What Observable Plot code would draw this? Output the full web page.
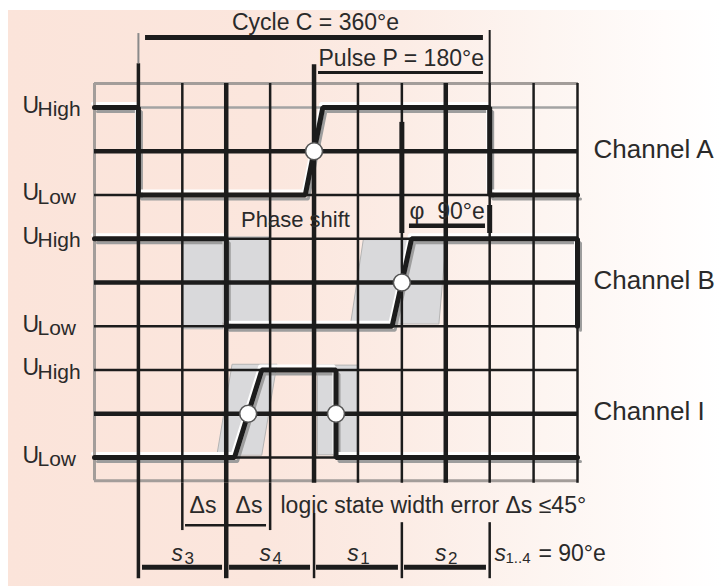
<!DOCTYPE html>
<html><head><meta charset="utf-8">
<script src="https://cdn.jsdelivr.net/npm/d3@7"></script>
<script src="https://cdn.jsdelivr.net/npm/@observablehq/plot@0.6"></script>
<style>
html,body{margin:0;padding:0;background:#fff;}
#chart{width:722px;height:586px;}
</style></head><body><div id="chart"></div>
<script>
// x in electrical degrees (°e), one grid column = 45°e; y in signal rows
const thinColumns = [45, 135, 225, 270, 360, 405, 450];
const thickColumns = [90, 315];
const highLevels = [8, 5, 2];
const midLevels = [7, 4, 1];
const lowLevels = [6, 3, 0];
const channelNames = ["Channel A", "Channel B", "Channel I"];
const uLabels = [
  {level: 8, sub: "High"}, {level: 6, sub: "Low"},
  {level: 5, sub: "High"}, {level: 3, sub: "Low"},
  {level: 2, sub: "High"}, {level: 0, sub: "Low"}
];
// waveforms [°e, level]
const waveA = [[-45,8],[0,8],[0,6],[171,6],[189,8],[360,8],[360,6],[450,6]];
const waveB = [[-45,5],[90,5],[90,3],[260,3],[280,5],[450,5],[450,3]];
const waveI = [[-45,0],[98.5,0],[126.5,2],[202.5,2],[202.5,0],[450,0]];
const crossings = [[180,7],[270,4],[112.5,1],[202.5,1]];
// tolerance zones
const zoneRects = [
  {x1: 45, x2: 87, y1: 2.93, y2: 4.92},
  {x1: 93, x2: 134, y1: 3.1, y2: 5.03},
  {x1: 184, x2: 225, y1: 0.05, y2: 2.1}
];
const zoneSlantB = [{y: 3.05, x1: 218, x2: 308.5}, {y: 4.97, x1: 231, x2: 316}];
const zoneSlantI = [{y: 0.05, x1: 81, x2: 127}, {y: 2.12, x1: 96.5, x2: 142.5}];
// frame
const frameTop = 8.55, frameBottom = -0.53, gridBottom = -0.59;
// dimension lines below the grid
const dropsLong = [90];
const dropsShort = [45, 135];
const dropsLower = [{deg: 180, from: -1.28}, {deg: 270, from: -1.49}, {deg: 360, from: -1.49}];
const bottomEnd = -2.77, deltaEnd = -1.67;
const sSegments = [[4.2, 86.2], [93.4, 176.4], [182.5, 266.5], [272.7, 356.7]];
const sLabels = [{deg: 45, n: "3"}, {deg: 135, n: "4"}, {deg: 225, n: "1"}, {deg: 315, n: "2"}];
const deltaLabels = [66.2, 113.3];

const ink = "#1c1c1c";
const txt = "#2a2a2a";
const X = d => d[0], Y = d => d[1];

function wave(data) {
  return [
    Plot.line(data, {x: X, y: Y, stroke: "#9d9d9d", strokeWidth: 3, dx: 3, dy: 4, strokeLinejoin: "miter"}),
    Plot.line(data, {x: X, y: Y, stroke: "#ffffff", strokeWidth: 3, dx: -2, dy: -4, strokeLinejoin: "miter"})
  ];
}
function waveInk(data) {
  return Plot.line(data, {x: X, y: Y, stroke: ink, strokeWidth: 5, strokeLinejoin: "miter"});
}

const chart = Plot.plot({
  width: 722, height: 586,
  marginTop: 0, marginRight: 0, marginBottom: 0, marginLeft: 0,
  x: {domain: [-45, 450], range: [94, 577], axis: null},
  y: {domain: [0, 8], range: [457, 107], axis: null},
  style: {
    background: "linear-gradient(to right, #fbe4da 0%, #fbe6dd 35%, #fcece5 55%, #fdf5f1 75%, #fffcfb 92%, #ffffff 100%) 8px 10px / 714px 576px no-repeat, #ffffff",
    fontFamily: "'Liberation Sans', Arial, sans-serif",
    color: txt
  },
  marks: [
    // tolerance zones
    Plot.rect(zoneRects, {x1: "x1", x2: "x2", y1: "y1", y2: "y2", fill: "#d9d9db", stroke: "#b4b4b4", strokeWidth: 1}),
    Plot.areaX(zoneSlantB, {y: "y", x1: "x1", x2: "x2", fill: "#d9d9db", stroke: "#b4b4b4", strokeWidth: 1}),
    Plot.areaX(zoneSlantI, {y: "y", x1: "x1", x2: "x2", fill: "#d9d9db", stroke: "#b4b4b4", strokeWidth: 1}),
    // waveform relief
    ...wave(waveA), ...wave(waveB), ...wave(waveI),
    // frame (gray)
    Plot.ruleY([frameTop, frameBottom], {x1: -45, x2: 451, stroke: "#a39d9a", strokeWidth: 3}),
    Plot.ruleY([8], {x1: -45, x2: 450, stroke: "#a3a3a3", strokeWidth: 2.5}),
    Plot.ruleX([-45], {y1: frameBottom, y2: frameTop, stroke: "#a39d9a", strokeWidth: 3}),
    // horizontal grid
    Plot.ruleY([...highLevels.slice(1), ...lowLevels], {x1: -45, x2: 450, stroke: ink, strokeWidth: 2.5}),
    Plot.ruleY(midLevels, {x1: -45, x2: 450, stroke: ink, strokeWidth: 4.5}),
    // vertical grid
    Plot.ruleX(thinColumns, {y1: gridBottom, y2: frameTop, stroke: ink, strokeWidth: 2.5}),
    Plot.ruleX(thickColumns, {y1: gridBottom, y2: frameTop, stroke: ink, strokeWidth: 4.5}),
    Plot.ruleX([0], {y1: bottomEnd, y2: 9.0, stroke: ink, strokeWidth: 3.5}),
    Plot.ruleX([0], {y1: 9.0, y2: 9.69, stroke: "#8a8a8a", strokeWidth: 2}),
    Plot.ruleX([180], {y1: gridBottom, y2: 8.98, stroke: ink, strokeWidth: 4.5}),
    Plot.ruleX([360], {y1: frameTop, y2: 9.76, stroke: ink, strokeWidth: 2}),
    // dimension drops
    Plot.ruleX(dropsLong, {y1: bottomEnd, y2: gridBottom, stroke: ink, strokeWidth: 4.5}),
    Plot.ruleX(dropsShort, {y1: deltaEnd, y2: gridBottom, stroke: ink, strokeWidth: 2.5}),
    Plot.ruleX(dropsLower, {x: "deg", y1: "from", y2: bottomEnd, stroke: ink, strokeWidth: 2.5}),
    // phase markers
    Plot.ruleX([270], {y1: 5.12, y2: 7.66, stroke: ink, strokeWidth: 5}),
    Plot.ruleX([360], {y1: 5.12, y2: 5.76, stroke: ink, strokeWidth: 5}),
    // waveform ink
    waveInk(waveA), waveInk(waveB), waveInk(waveI),
    Plot.dot(crossings, {x: X, y: Y, r: 8.5, fill: "#ffffff", stroke: "#555555", strokeWidth: 1.6}),
    // brackets
    Plot.ruleY([9.6], {x1: 7.3, x2: 353.6, stroke: ink, strokeWidth: 5}),
    Plot.ruleY([8.8], {x1: 184.6, x2: 353.6, stroke: ink, strokeWidth: 3}),
    Plot.ruleY([5.30], {x1: 277.8, x2: 355.7, stroke: ink, strokeWidth: 4.5}),
    Plot.ruleY([-1.55], {x1: 48.3, x2: 131.3, stroke: ink, strokeWidth: 2.5}),
    Plot.ruleY(sSegments, {x1: d => d[0], x2: d => d[1], y: -2.51, stroke: ink, strokeWidth: 5}),
    // texts
    Plot.text(["Cycle C = 360°e"], {x: 181.5, y: 9.94, text: d => d, fontSize: 23, fill: txt}),
    Plot.text(["Pulse P = 180°e"], {x: 184.6, y: 9.12, text: d => d, fontSize: 23, textAnchor: "start", fill: txt}),
    Plot.text(["Phase shift"], {x: 161, y: 5.43, text: d => d, fontSize: 22, fill: txt}),
    Plot.text(["φ  90°e"], {x: 277.8, y: 5.63, text: d => d, fontSize: 23, textAnchor: "start", fill: txt}),
    Plot.text(channelNames, {x: 466.4, y: (d, i) => midLevels[i], text: d => d, fontSize: 26, textAnchor: "start", dy: -2, fill: txt}),
    Plot.text(uLabels, {y: "level", frameAnchor: "left", dx: 22, dy: -2, text: () => "U", fontSize: 23, textAnchor: "start", fill: txt}),
    Plot.text(uLabels, {y: "level", frameAnchor: "left", dx: 37, dy: 2, text: "sub", fontSize: 21, textAnchor: "start", fill: txt}),
    Plot.text(["logic state width error Δs ≤45°"], {x: 145.6, y: -1.10, text: d => d, fontSize: 23, textAnchor: "start", fill: txt}),
    Plot.text(deltaLabels, {x: d => d, y: -1.10, text: () => "Δs", fontSize: 23, fill: txt}),
    Plot.text(sLabels, {x: "deg", y: -2.19, dx: -5, text: () => "s", fontSize: 23, fontStyle: "italic", fill: txt}),
    Plot.text(sLabels, {x: "deg", y: -2.19, dx: 7, dy: 5, text: "n", fontSize: 17, fill: txt}),
    Plot.text(["s"], {x: 364.9, y: -2.19, text: d => d, fontSize: 23, fontStyle: "italic", textAnchor: "start", fill: txt}),
    Plot.text(["1..4"], {x: 364.9, y: -2.19, dx: 11, dy: 5, text: d => d, fontSize: 15, textAnchor: "start", fill: txt}),
    Plot.text(["= 90°e"], {x: 364.9, y: -2.19, dx: 44, text: d => d, fontSize: 23, textAnchor: "start", fill: txt})
  ]
});
document.getElementById("chart").appendChild(chart);
</script></body></html>
